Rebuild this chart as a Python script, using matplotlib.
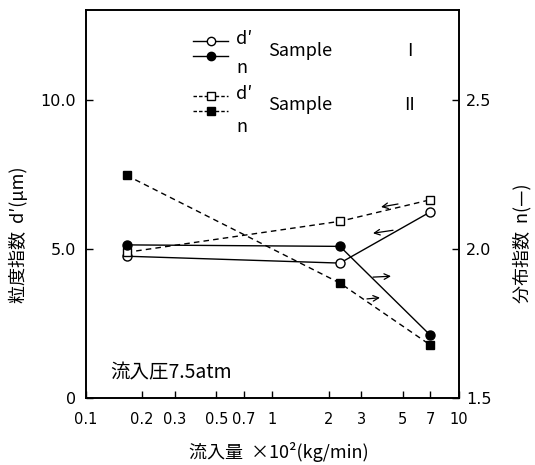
import matplotlib
matplotlib.use("Agg")
import matplotlib.pyplot as plt
from matplotlib.lines import Line2D
from matplotlib.ticker import FixedLocator, FixedFormatter, NullLocator

plt.rcParams['font.family'] = ['Noto Sans CJK JP', 'DejaVu Sans']

# data
flow = [0.165, 2.3, 7.0]
s1_d = [4.75, 4.52, 6.23]
s1_n = [2.013, 2.008, 1.711]
s2_d = [4.88, 5.92, 6.64]
s2_n = [2.246, 1.885, 1.678]

xticks = [0.1, 0.2, 0.3, 0.5, 0.7, 1, 2, 3, 5, 7, 10]
xticklabels = ['0.1', '0.2', '0.3', '0.5', '0.7', '1', '2', '3', '5', '7', '10']
lticks = [0, 5, 10]
lticklabels = ['0', '5.0', '10.0']
rticks = [1.5, 2.0, 2.5]
rticklabels = ['1.5', '2.0', '2.5']

fig = plt.figure(figsize=(5.35, 4.65), dpi=100)
ax = fig.add_axes([0.1607, 0.1441, 0.6972, 0.8344])
ax2 = ax.twinx()

dash = (0, (4, 3))
ms = 6.5
ax.plot(flow, s1_d, '-', color='black', lw=1.0, marker='o', ms=ms, mfc='white', mec='black', mew=1.0, zorder=3)
ax2.plot(flow, s1_n, '-', color='black', lw=1.0, marker='o', ms=ms, mfc='black', mec='black', zorder=3)
ax.plot(flow, s2_d, linestyle=dash, color='black', lw=1.0, marker='s', ms=6, mfc='white', mec='black', mew=1.0, zorder=3)
ax2.plot(flow, s2_n, linestyle=dash, color='black', lw=1.0, marker='s', ms=6, mfc='black', mec='black', zorder=3)

ax.set_xscale('log')
ax.set_xlim(0.1, 10)
ax.set_ylim(0, 13)
ax2.set_ylim(1.5, 2.8)

ax.xaxis.set_major_locator(FixedLocator(xticks))
ax.xaxis.set_major_formatter(FixedFormatter(xticklabels))
ax.xaxis.set_minor_locator(NullLocator())
ax.yaxis.set_major_locator(FixedLocator(lticks))
ax.yaxis.set_major_formatter(FixedFormatter(lticklabels))
ax2.yaxis.set_major_locator(FixedLocator(rticks))
ax2.yaxis.set_major_formatter(FixedFormatter(rticklabels))

for a in (ax, ax2):
    a.tick_params(direction='in', length=5, width=1.0, labelsize=11.5)
    for s in a.spines.values():
        s.set_linewidth(1.2)
    for lab in a.get_xticklabels() + a.get_yticklabels():
        lab.set_fontfamily('DejaVu Sans')
ax.tick_params(axis='x', pad=10, labelsize=10.5)
ax.tick_params(axis='y', pad=7)
ax2.tick_params(axis='y', pad=5)

ax.set_ylabel("粒度指数  d′(μm)", fontsize=13)
ax.yaxis.set_label_coords(-0.155, 0.42)
ax2.set_ylabel("分布指数  n(—)", fontsize=13)
ax2.yaxis.set_label_coords(1.145, 0.40)
ax.set_xlabel("流入量  ×10²(kg/min)", fontsize=13)
ax.xaxis.set_label_coords(0.517, -0.113)

# arrows
arrows = [((4.71, 6.50), (3.82, 6.40)),
          ((4.43, 5.62), (3.46, 5.52)),
          ((3.46, 4.05), (4.32, 4.08)),
          ((3.21, 3.32), (3.77, 3.36))]
for (x0, y0), (x1, y1) in arrows:
    ax.annotate('', xy=(x1, y1), xytext=(x0, y0),
                arrowprops=dict(arrowstyle='->', lw=0.9, color='black', shrinkA=0, shrinkB=0))

# legend (custom)
T = ax.transAxes
ax.add_line(Line2D([0.287, 0.381], [0.921, 0.921], transform=T, color='black', lw=1.0))
ax.add_line(Line2D([0.287, 0.381], [0.881, 0.881], transform=T, color='black', lw=1.0))
ax.add_line(Line2D([0.334], [0.921], transform=T, marker='o', ms=6, mfc='white', mec='black', lw=0))
ax.add_line(Line2D([0.334], [0.881], transform=T, marker='o', ms=6, mfc='black', mec='black', lw=0))
ax.add_line(Line2D([0.287, 0.381], [0.778, 0.778], transform=T, color='black', lw=1.0, linestyle=(0, (2.5, 1.5))))
ax.add_line(Line2D([0.287, 0.381], [0.740, 0.740], transform=T, color='black', lw=1.0, linestyle=(0, (2.5, 1.5))))
ax.add_line(Line2D([0.334], [0.778], transform=T, marker='s', ms=5.5, mfc='white', mec='black', lw=0))
ax.add_line(Line2D([0.334], [0.740], transform=T, marker='s', ms=5.5, mfc='black', mec='black', lw=0))

tk = dict(transform=T, fontsize=13, va='center', ha='left')
ax.text(0.403, 0.925, "d′", **tk)
ax.text(0.403, 0.851, "n", **tk)
ax.text(0.488, 0.894, "Sample", **tk)
ax.text(0.862, 0.894, "I", **tk)
ax.text(0.403, 0.784, "d′", **tk)
ax.text(0.403, 0.698, "n", **tk)
ax.text(0.488, 0.755, "Sample", **tk)
ax.text(0.853, 0.755, "II", **tk)

ax.text(0.064, 0.064, "流入圧7.5atm", transform=T, fontsize=14, va='center', ha='left')

fig.savefig("out.png", dpi=100)
